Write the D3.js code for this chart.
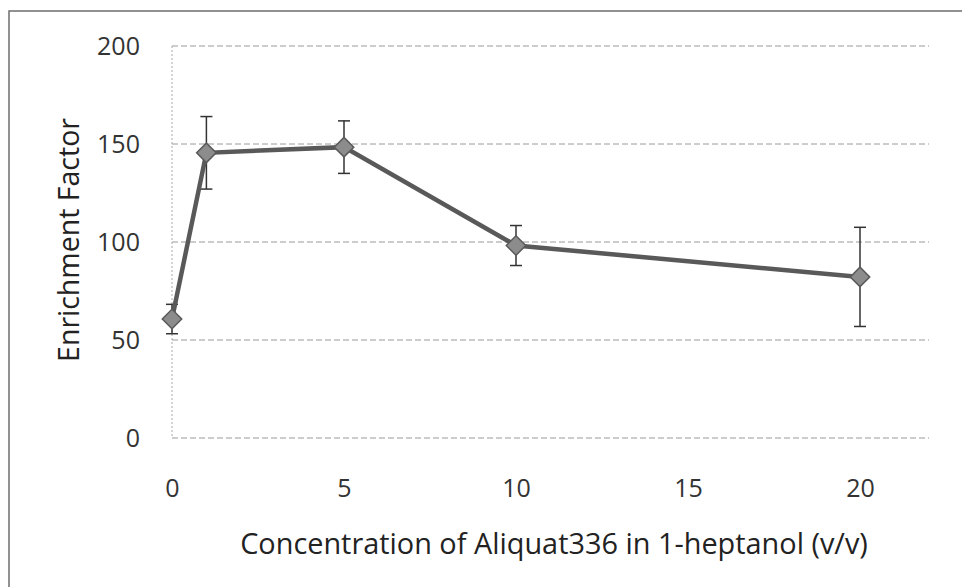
<!DOCTYPE html>
<html>
<head>
<meta charset="utf-8">
<script src="https://cdn.jsdelivr.net/npm/d3@7"></script>
<style>
  html, body { margin: 0; padding: 0; background: #fff; }
  svg { display: block; }
</style>
</head>
<body>
<script>
// ---- data ----
const concentrations = [0, 1, 5, 10, 20];
const enrichment = [60.7, 145.5, 148.4, 98.2, 82.2];
const errors = [7.5, 18.5, 13.4, 10.2, 25.3];
const xTicks = [0, 5, 10, 15, 20];
const yTicks = [0, 50, 100, 150, 200];
const xTitle = "Concentration of Aliquat336 in 1-heptanol (v/v)";
const yTitle = "Enrichment Factor";

const W = 962, H = 587;
const svg = d3.select("body").append("svg").attr("width", W).attr("height", H);

// outer frame (left + top only visible)
svg.append("path")
  .attr("d", "M9,587 L9,11 L962,11")
  .attr("fill", "none").attr("stroke", "#6e6e6e").attr("stroke-width", 1.5);

const x = d3.scaleLinear().domain([0, 20]).range([172, 860]);
const y = d3.scaleLinear().domain([0, 200]).range([438, 46]);
const plotRight = 929;
const font = "'Open Sans', 'DejaVu Sans', sans-serif";
const weight = 400;

// fit a text element's font size to a target length
function fit(sel, target, base) {
  sel.attr("font-size", base);
  const len = sel.node().getComputedTextLength();
  sel.attr("font-size", base * target / len);
}

// gridlines
svg.append("g").selectAll("line").data(yTicks).join("line")
  .attr("x1", x(0)).attr("x2", plotRight)
  .attr("y1", d => y(d)).attr("y2", d => y(d))
  .attr("stroke", "#9a9a9a").attr("stroke-width", 1).attr("stroke-dasharray", "6,3");

// left axis (dotted)
svg.append("line")
  .attr("x1", x(0)).attr("x2", x(0)).attr("y1", y(200)).attr("y2", y(0))
  .attr("stroke", "#a8a8a8").attr("stroke-width", 1).attr("stroke-dasharray", "2,2");

// y tick labels via axis
const yAxis = d3.axisLeft(y).tickValues(yTicks).tickSize(0).tickPadding(0).tickFormat(d3.format("d"));
const gy = svg.append("g").attr("transform", "translate(140,0)").call(yAxis);
gy.select(".domain").remove();
gy.selectAll("text").attr("font-family", font).attr("font-weight", weight).attr("fill", "#333");
const t200 = gy.selectAll("text").filter(d => d === 200);
fit(t200, 43, 22);
gy.selectAll("text").attr("font-size", t200.attr("font-size"));

// x tick labels via axis
const xAxis = d3.axisBottom(x).tickValues(xTicks).tickSize(0).tickPadding(0).tickFormat(d3.format("d"));
const gx = svg.append("g").attr("transform", "translate(0,479)").call(xAxis);
gx.select(".domain").remove();
gx.selectAll("text").attr("font-family", font).attr("font-weight", weight).attr("fill", "#333")
  .attr("font-size", t200.attr("font-size"));

// axis titles
const xt = svg.append("text").attr("x", 554).attr("y", 554).attr("text-anchor", "middle")
  .attr("font-family", font).attr("font-weight", weight).attr("fill", "#222").text(xTitle);
fit(xt, 628, 24);
const yt = svg.append("text").attr("transform", "translate(79,240) rotate(-90)").attr("text-anchor", "middle")
  .attr("font-family", font).attr("font-weight", weight).attr("fill", "#222").text(yTitle);
fit(yt, 244, 24);

const data = concentrations.map((c, i) => ({ c, v: enrichment[i], e: errors[i] }));

// error bars
const eb = svg.append("g").attr("stroke", "#333").attr("stroke-width", 1.5);
eb.selectAll("line.v").data(data).join("line").attr("class", "v")
  .attr("x1", d => x(d.c)).attr("x2", d => x(d.c))
  .attr("y1", d => y(d.v + d.e)).attr("y2", d => y(d.v - d.e));
eb.selectAll("line.t").data(data).join("line").attr("class", "t")
  .attr("x1", d => x(d.c) - 6).attr("x2", d => x(d.c) + 6)
  .attr("y1", d => y(d.v + d.e)).attr("y2", d => y(d.v + d.e));
eb.selectAll("line.b").data(data).join("line").attr("class", "b")
  .attr("x1", d => x(d.c) - 6).attr("x2", d => x(d.c) + 6)
  .attr("y1", d => y(d.v - d.e)).attr("y2", d => y(d.v - d.e));

// line
svg.append("path").datum(data)
  .attr("d", d3.line().x(d => x(d.c)).y(d => y(d.v)))
  .attr("fill", "none").attr("stroke", "#595959").attr("stroke-width", 4.5);

// markers (square rotated 45° = diamond)
svg.append("g").selectAll("path").data(data).join("path")
  .attr("transform", d => `translate(${x(d.c)},${y(d.v)}) rotate(45)`)
  .attr("d", d3.symbol().type(d3.symbolSquare).size(190))
  .attr("fill", "#8c8c8c").attr("stroke", "#5a5a5a").attr("stroke-width", 1.5);
</script>
</body>
</html>
